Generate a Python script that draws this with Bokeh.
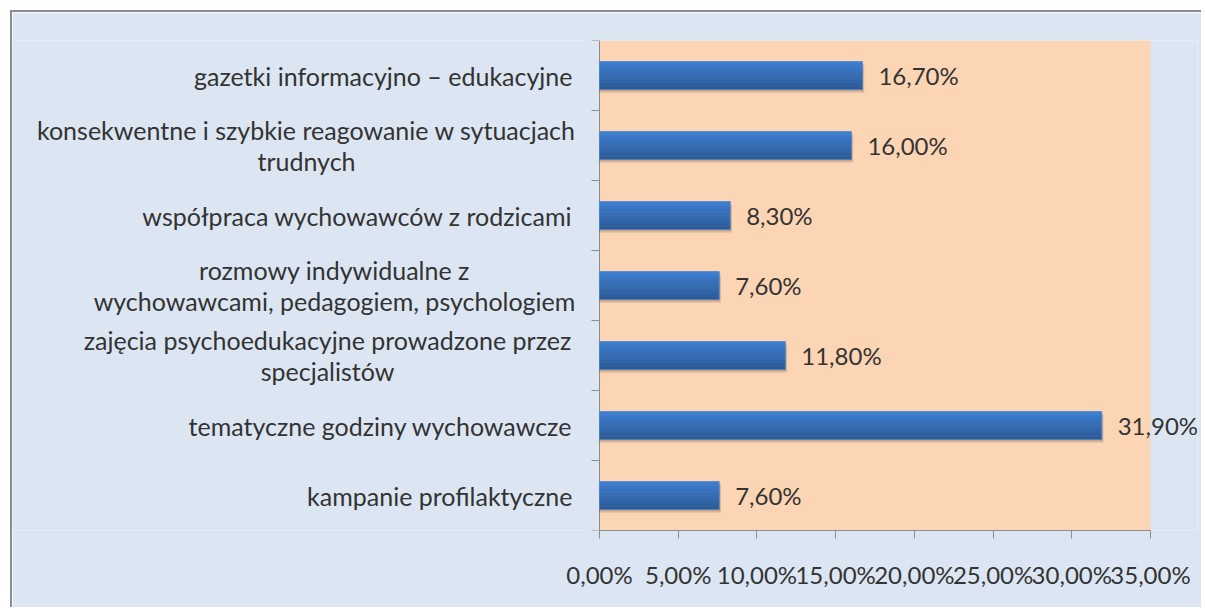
from bokeh.plotting import figure
from bokeh.models import ColumnDataSource, LabelSet, FixedTicker, Range1d, BoxAnnotation
from bokeh.core.properties import value
from bokeh.embed import file_html
from bokeh.resources import INLINE

# ---- data (bottom to top) ----
categories = [
    "kampanie profilaktyczne",
    "tematyczne godziny wychowawcze",
    "zajęcia psychoedukacyjne prowadzone przez\nspecjalistów",
    "rozmowy indywidualne z\nwychowawcami, pedagogiem, psychologiem",
    "współpraca wychowawców z rodzicami",
    "konsekwentne i szybkie reagowanie w sytuacjach\ntrudnych",
    "gazetki informacyjno – edukacyjne",
]
values = [7.6, 31.9, 11.8, 7.6, 8.3, 16.0, 16.7]
value_labels = ["7,60%", "31,90%", "11,80%", "7,60%", "8,30%", "16,00%", "16,70%"]
x_ticks = [0, 5, 10, 15, 20, 25, 30, 35]
x_tick_labels = ["0,00%", "5,00%", "10,00%", "15,00%", "20,00%", "25,00%", "30,00%", "35,00%"]

FONT = "Lato"
FS = "24px"
CFS = "25px"
TXT = "#333333"
AX = "#8c8c8c"
BG = "#dce6f2"

n = len(categories)
ycent = [i + 0.5 for i in range(n)]
X_MAX = 35

# pixel layout: canvas starts at x=12; axis (x=0) at page x=599, x=35 at page x=1150
W = 1191
H = 597
MBR = 6
PX_PER_UNIT = 551 / X_MAX
x_start = -(599 - 12) / PX_PER_UNIT
x_end = (12 + W - MBR - 599) / PX_PER_UNIT
TICK = 8 / PX_PER_UNIT

p = figure(width=W, height=H, x_range=Range1d(x_start, x_end), y_range=Range1d(0, n),
           output_backend="svg", toolbar_location=None,
           min_border_left=0, min_border_top=28, min_border_right=MBR,
           min_border_bottom=H - 28 - 490)
p.styles = {"margin-left": "10px", "margin-top": "10px",
            "border-left": "2px solid #8c8c8c", "border-top": "2px solid #8c8c8c",
            "border-right": "none", "border-bottom": "none"}
p.background_fill_color = BG
p.border_fill_color = BG
p.outline_line_color = None
p.xgrid.grid_line_color = None
p.ygrid.grid_line_color = None
p.yaxis.visible = False

p.add_layout(BoxAnnotation(left=0, right=X_MAX, fill_color="#fcd5b5", fill_alpha=1.0,
                           line_color=None, level="underlay"))

# x axis
p.xaxis.bounds = (0, X_MAX)
p.xaxis.ticker = FixedTicker(ticks=x_ticks)
p.xaxis.major_label_overrides = {t: l for t, l in zip(x_ticks, x_tick_labels)}
p.xaxis.major_label_text_font = FONT
p.xaxis.major_label_text_font_size = FS
p.xaxis.major_label_text_color = TXT
p.xaxis.major_label_standoff = 21
p.xaxis.axis_line_color = AX
p.xaxis.major_tick_line_color = AX
p.xaxis.major_tick_out = 8
p.xaxis.major_tick_in = 0
p.xaxis.minor_tick_line_color = None

# category axis line and boundary ticks
bounds = list(range(n + 1))
p.segment(x0=[0], y0=[0], x1=[0], y1=[n], line_color=AX, line_width=1)
p.segment(x0=[0] * len(bounds), y0=bounds, x1=[-TICK] * len(bounds), y1=bounds,
          line_color=AX, line_width=1)

BH = 0.4
# shadow
p.hbar(y=[y - 0.045 for y in ycent], left=0, right=[v + 0.12 for v in values], height=BH,
       fill_color="#000000", fill_alpha=0.10, line_color=None)
p.hbar(y=[y - 0.03 for y in ycent], left=0, right=[v + 0.07 for v in values], height=BH,
       fill_color="#000000", fill_alpha=0.12, line_color=None)

# gradient bars built from strips
top = (0x3d, 0x7e, 0xd0)
bot = (0x2c, 0x5b, 0x98)
NS = 10
for k in range(NS):
    t = k / (NS - 1)
    c = tuple(int(round(top[j] + (bot[j] - top[j]) * t)) for j in range(3))
    col = "#%02x%02x%02x" % c
    ys = [y + BH / 2 - (k + 0.5) * BH / NS for y in ycent]
    p.hbar(y=ys, left=0, right=values, height=BH / NS, fill_color=col,
           line_color=col, line_width=0.6)
p.hbar(y=ycent, left=0, right=values, height=BH, fill_color=None,
       line_color="#5b8ed0", line_width=0.8, line_alpha=0.7)

# value labels
vsrc = ColumnDataSource(dict(x=values, y=ycent, t=value_labels))
p.add_layout(LabelSet(x="x", y="y", text="t", source=vsrc, x_offset=16,
                      text_align="left", text_baseline="middle",
                      text_font=value(FONT), text_font_size=value(FS), text_color=TXT))

# category labels: single lines right-aligned, two-line labels centred line by line
multi_center_px = {2: 327, 3: 334, 5: 306}  # page x of the centre of each two-line block
LINE_GAP = 31
s_x, s_y, s_t = [], [], []
m_x, m_y, m_t, m_off, m_yoff = [], [], [], [], []
for i, c in enumerate(categories):
    lines = c.split("\n")
    if len(lines) == 1:
        s_x.append(0); s_y.append(ycent[i]); s_t.append(c)
    else:
        k = len(lines)
        for j, ln in enumerate(lines):
            m_x.append(0); m_y.append(ycent[i]); m_t.append(ln)
            m_off.append(multi_center_px[i] - 599)
            m_yoff.append(((k - 1) / 2 - j) * LINE_GAP)
ssrc = ColumnDataSource(dict(x=s_x, y=s_y, t=s_t))
p.add_layout(LabelSet(x="x", y="y", text="t", source=ssrc, x_offset=-27,
                      text_align="right", text_baseline="middle",
                      text_font=value(FONT), text_font_size=value(CFS), text_color=TXT))
msrc = ColumnDataSource(dict(x=m_x, y=m_y, t=m_t, off=m_off, yoff=m_yoff))
p.add_layout(LabelSet(x="x", y="y", text="t", source=msrc, x_offset="off", y_offset="yoff",
                      text_align="center", text_baseline="middle",
                      text_font=value(FONT), text_font_size=value(CFS), text_color=TXT))

open("out.html", "w").write(file_html(p, INLINE))
